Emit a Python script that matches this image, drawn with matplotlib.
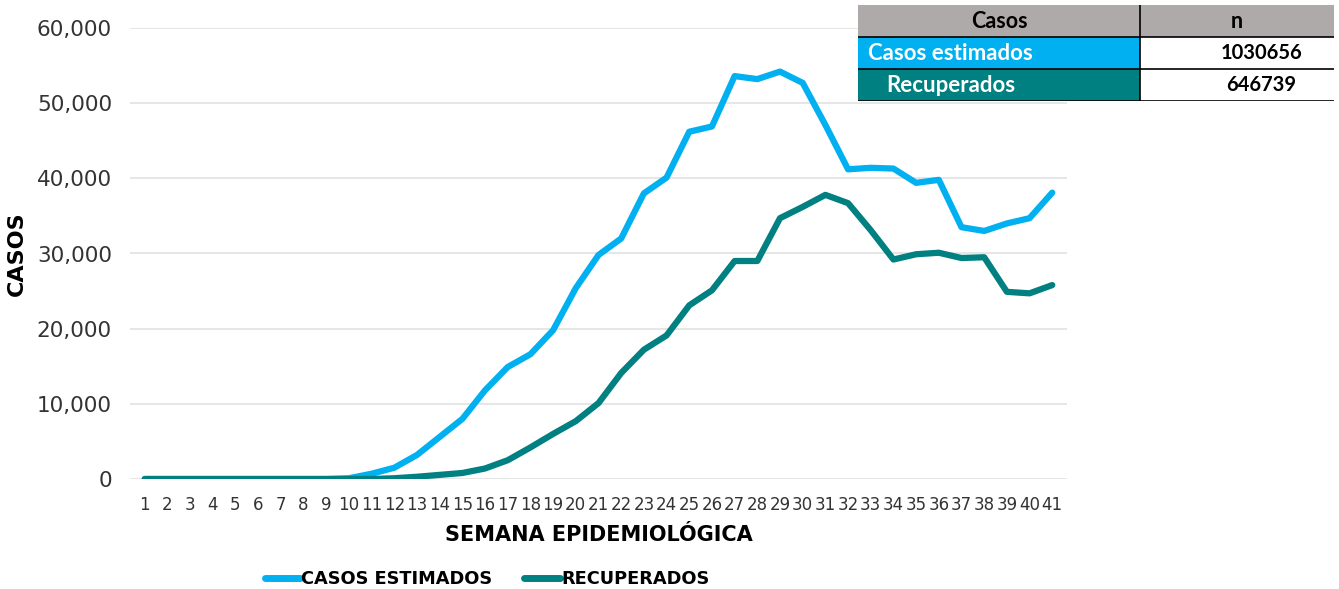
import numpy as np
import matplotlib.pyplot as plt
from matplotlib.patches import Rectangle
from matplotlib.lines import Line2D

# semanas epidemiológicas
semanas = list(range(1, 42))

casos_estimados = [0, 0, 0, 0, 0, 0, 0, 0, 0, 100,
                   700, 1500, 3200, 5600, 8000, 11800, 14900, 16600, 19800, 25400,
                   29800, 32000, 38000, 40100, 46200, 46900, 53600, 53200, 54200, 52700,
                   47100, 41200, 41400, 41300, 39400, 39800, 33500, 33000, 34000, 34700,
                   38100]
recuperados = [0, 0, 0, 0, 0, 0, 0, 0, 0, 0,
               0, 100, 300, 550, 800, 1400, 2500, 4200, 6000, 7700,
               10100, 14100, 17200, 19100, 23100, 25100, 29000, 29000, 34700, 36200,
               37800, 36700, 33100, 29200, 29900, 30100, 29400, 29500, 24900, 24700,
               25800]

tabla_filas = ["Casos estimados", "Recuperados"]
tabla_n = ["1030656", "646739"]

azul = "#00B0F0"
verde = "#008080"
gris = "#AEAAAA"

plt.rcParams['font.family'] = ['DejaVu Sans']

fig = plt.figure(figsize=(13.39, 5.89), dpi=100)
ax = fig.add_axes([130/1339, 1-479/589, (1067-130)/1339, (479-28)/589])

ax.plot(semanas, casos_estimados, color=azul, lw=4.5, solid_joinstyle="round",
        solid_capstyle="round", label="CASOS ESTIMADOS", zorder=3)
ax.plot(semanas, recuperados, color=verde, lw=4.5, solid_joinstyle="round",
        solid_capstyle="round", label="RECUPERADOS", zorder=3)

ax.set_ylim(0, 60000)
ax.set_xlim(0.35, 41.65)
ax.set_yticks(range(0, 60001, 10000))
ax.set_yticklabels([f"{v:,}" for v in range(0, 60001, 10000)], fontsize=15.5, color="#333333")
ax.set_xticks(semanas)
ax.set_xticklabels([str(s) for s in semanas], fontsize=12, color="#333333")
ax.tick_params(length=0, pad=12)
ax.tick_params(axis="y", pad=13)
ax.grid(axis="y", color="#E2E2E2", lw=1.2, zorder=0)
for s in ax.spines.values():
    s.set_visible(False)

ax.set_xlabel("SEMANA EPIDEMIOLÓGICA", fontsize=15, fontweight="bold", labelpad=8)
ax.set_ylabel("CASOS", fontsize=16, fontweight="bold")
ax.yaxis.set_label_coords(-0.11, 0.5)

handles = [Line2D([0], [0], color=azul, lw=5, solid_capstyle="round"),
           Line2D([0], [0], color=verde, lw=5, solid_capstyle="round")]
fig.legend(handles, ["CASOS ESTIMADOS", "RECUPERADOS"], loc="center",
           bbox_to_anchor=(487/1339, 1-579/589), ncol=2, frameon=False,
           prop={"weight": "bold", "size": 12.8}, handlelength=2.0,
           handletextpad=0.05, columnspacing=1.8)

# tabla resumen
tx = fig.add_axes([858/1339, 1-101/589, (1334-858)/1339, 96/589])
tx.set_xlim(0, 1)
tx.set_ylim(0, 3)
tx.axis("off")
split = (1140-858)/(1334-858)
tx.add_patch(Rectangle((0, 2), 1, 1, facecolor=gris, edgecolor="none"))
tx.add_patch(Rectangle((0, 1), split, 1, facecolor=azul, edgecolor="none"))
tx.add_patch(Rectangle((0, 0), split, 1, facecolor=verde, edgecolor="none"))
tx.add_patch(Rectangle((split, 0), 1-split, 2, facecolor="white", edgecolor="none"))
for yy in [0, 1, 2]:
    tx.plot([0, 1], [yy, yy], color="black", lw=1.2)
tx.plot([split, split], [0, 3], color="black", lw=1.2)

tfont = ['Lato', 'DejaVu Sans']
tx.text(split/2, 2.5, "Casos", ha="center", va="center", fontsize=15.5,
        fontweight="bold", family=tfont)
tx.text(split + (1-split)/2, 2.5, "n", ha="center", va="center", fontsize=15.5,
        fontweight="bold", family=tfont)
tx.text(0.02, 1.5, tabla_filas[0], ha="left", va="center", fontsize=16,
        fontweight="bold", color="white", family=tfont)
tx.text(0.06, 0.5, tabla_filas[1], ha="left", va="center", fontsize=16,
        fontweight="bold", color="white", family=tfont)
tx.text(0.847, 1.5, tabla_n[0], ha="center", va="center", fontsize=14.5,
        fontweight="bold", family=tfont)
tx.text(0.847, 0.5, tabla_n[1], ha="center", va="center", fontsize=14.5,
        fontweight="bold", family=tfont)

fig.savefig("out.png", dpi=100)
